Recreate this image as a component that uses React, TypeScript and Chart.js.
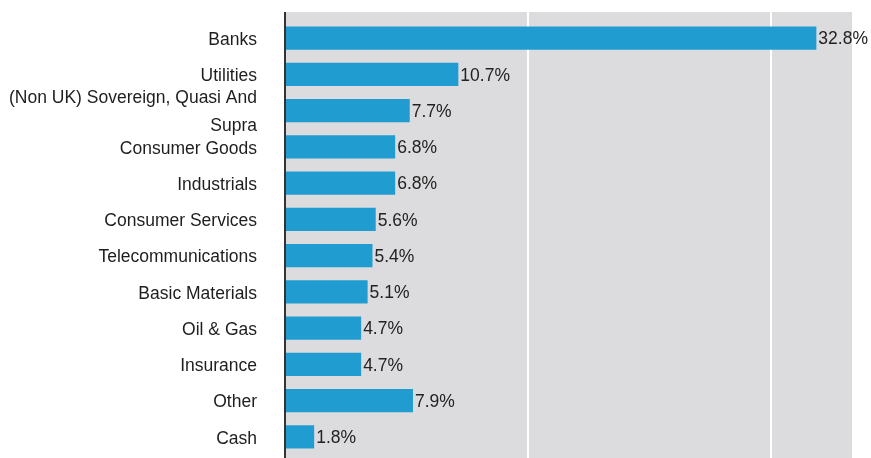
import React, { useEffect, useRef } from "react";
import { Chart, registerables } from "chart.js";

Chart.register(...registerables);

const categories: (string | string[])[] = [
  "Banks",
  "Utilities",
  ["(Non UK) Sovereign, Quasi And", "Supra"],
  "Consumer Goods",
  "Industrials",
  "Consumer Services",
  "Telecommunications",
  "Basic Materials",
  "Oil & Gas",
  "Insurance",
  "Other",
  "Cash",
];
const weights: number[] = [32.8, 10.7, 7.7, 6.8, 6.8, 5.6, 5.4, 5.1, 4.7, 4.7, 7.9, 1.8];
const gridValues: number[] = [15, 30];

const FONT = "'Liberation Sans', Arial, sans-serif";

const bgPlugin = {
  id: "bgPlugin",
  beforeDraw(chart: any) {
    const { ctx, chartArea } = chart;
    ctx.save();
    ctx.fillStyle = "#dcdcde";
    ctx.fillRect(chartArea.left, 12, chartArea.right - chartArea.left, chart.height - 12);
    ctx.restore();
  },
  beforeDatasetsDraw(chart: any) {
    const { ctx } = chart;
    const xs = chart.scales.x;
    ctx.save();
    ctx.strokeStyle = "#ffffff";
    ctx.lineWidth = 2;
    gridValues.forEach((v) => {
      const x = Math.round(xs.getPixelForValue(v));
      ctx.beginPath();
      ctx.moveTo(x, 12);
      ctx.lineTo(x, chart.height);
      ctx.stroke();
    });
    ctx.restore();
  },
  afterDatasetsDraw(chart: any) {
    const { ctx, chartArea } = chart;
    ctx.save();
    ctx.strokeStyle = "#333333";
    ctx.lineWidth = 2;
    ctx.beginPath();
    ctx.moveTo(chartArea.left, 12);
    ctx.lineTo(chartArea.left, chart.height);
    ctx.stroke();
    const meta = chart.getDatasetMeta(0);
    ctx.fillStyle = "#222222";
    ctx.font = `17.5px ${FONT}`;
    ctx.textBaseline = "middle";
    ctx.textAlign = "left";
    meta.data.forEach((bar: any, i: number) => {
      ctx.fillText(weights[i].toFixed(1) + "%", bar.x + 2, bar.y + 1.5);
    });
    ctx.restore();
  },
};

export default function App() {
  const ref = useRef<HTMLCanvasElement | null>(null);
  useEffect(() => {
    if (!ref.current) return;
    const chart = new Chart(ref.current, {
      type: "bar",
      data: {
        labels: categories,
        datasets: [
          {
            data: weights,
            backgroundColor: "#209cd0",
            barPercentage: 0.64,
            categoryPercentage: 1,
          },
        ],
      },
      options: {
        indexAxis: "y",
        animation: false,
        responsive: false,
        maintainAspectRatio: false,
        layout: { padding: { top: 20, bottom: 3, right: 19, left: 0 } },
        plugins: { legend: { display: false }, tooltip: { enabled: false } },
        scales: {
          x: {
            display: false,
            min: 0,
            max: 35,
            ticks: { display: false, stepSize: 15 },
            grid: { display: false },
            border: { display: false },
          },
          y: {
            afterFit: (scale: any) => {
              scale.width = 285;
              scale.paddingTop = 0;
              scale.paddingBottom = 0;
            },
            ticks: {
              color: "#1e1e1e",
              padding: 28,
              labelOffset: 2,
              font: { family: FONT, size: 17.5, lineHeight: 1.6 },
              autoSkip: false,
            },
            grid: { display: false, drawTicks: false },
            border: { display: false },
          },
        },
      },
      plugins: [bgPlugin],
    });
    return () => chart.destroy();
  }, []);
  return (
    <div style={{ position: "fixed", left: 0, top: 0, width: 871, height: 458, background: "#fff" }}>
      <canvas ref={ref} width={871} height={458} style={{ width: 871, height: 458 }} />
    </div>
  );
}
